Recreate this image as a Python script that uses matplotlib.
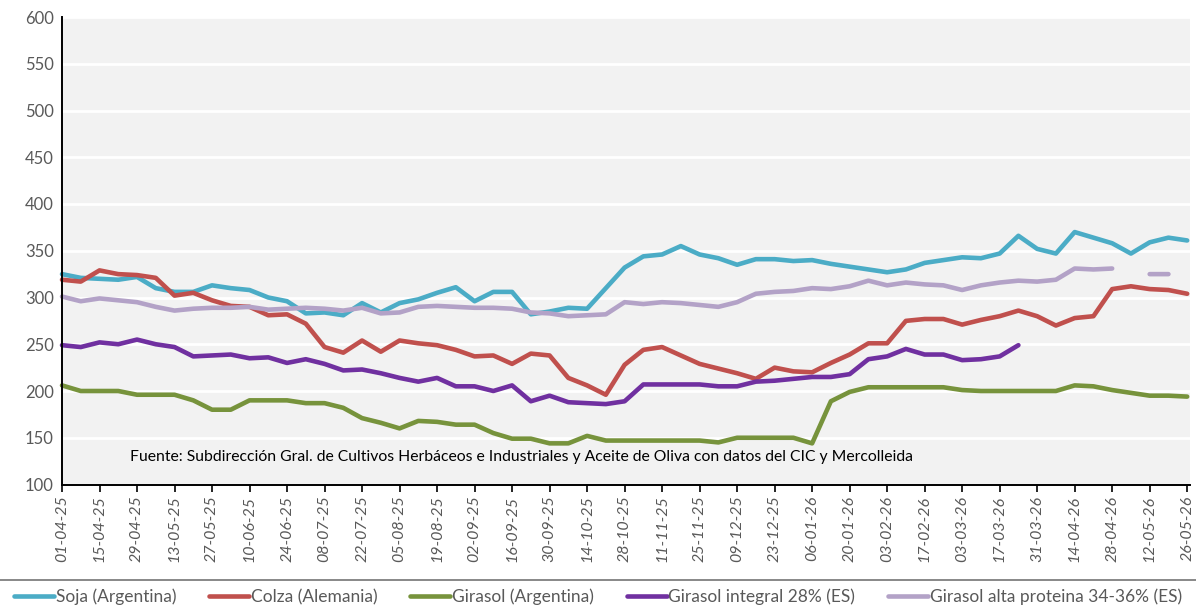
import numpy as np
import matplotlib.pyplot as plt
from matplotlib.lines import Line2D

plt.rcParams['font.family'] = ['Lato', 'DejaVu Sans']

nan = np.nan

# etiquetas del eje (una de cada dos semanas)
fechas = ["01-04-25", "15-04-25", "29-04-25", "13-05-25", "27-05-25", "10-06-25",
          "24-06-25", "08-07-25", "22-07-25", "05-08-25", "19-08-25", "02-09-25",
          "16-09-25", "30-09-25", "14-10-25", "28-10-25", "11-11-25", "25-11-25",
          "09-12-25", "23-12-25", "06-01-26", "20-01-26", "03-02-26", "17-02-26",
          "03-03-26", "17-03-26", "31-03-26", "14-04-26", "28-04-26", "12-05-26",
          "26-05-26"]

soja = [325, 321, 320, 319, 322, 310, 306, 306, 313, 310,
        308, 300, 296, 283, 284, 281, 294, 284, 294, 298,
        305, 311, 296, 306, 306, 282, 285, 289, 288, 310,
        332, 344, 346, 355, 346, 342, 335, 341, 341, 339,
        340, 336, 333, 330, 327, 330, 337, 340, 343, 342,
        347, 366, 352, 347, 370, 364, 358, 347, 359, 364, 361]

colza = [319, 317, 329, 325, 324, 321, 302, 305, 297, 291,
         290, 281, 282, 272, 247, 241, 254, 242, 254, 251,
         249, 244, 237, 238, 229, 240, 238, 214, 206, 196,
         228, 244, 247, 238, 229, 224, 219, 213, 225, 221,
         220, 230, 239, 251, 251, 275, 277, 277, 271, 276,
         280, 286, 280, 270, 278, 280, 309, 312, 309, 308, 304]

girasol = [206, 200, 200, 200, 196, 196, 196, 190, 180, 180,
           190, 190, 190, 187, 187, 182, 171, 166, 160, 168,
           167, 164, 164, 155, 149, 149, 144, 144, 152, 147,
           147, 147, 147, 147, 147, 145, 150, 150, 150, 150,
           144, 189, 199, 204, 204, 204, 204, 204, 201, 200,
           200, 200, 200, 200, 206, 205, 201, 198, 195, 195, 194]

integral = [249, 247, 252, 250, 255, 250, 247, 237, 238, 239,
            235, 236, 230, 234, 229, 222, 223, 219, 214, 210,
            214, 205, 205, 200, 206, 189, 195, 188, 187, 186,
            189, 207, 207, 207, 207, 205, 205, 210, 211, 213,
            215, 215, 218, 234, 237, 245, 239, 239, 233, 234,
            237, 249, nan, nan, nan, nan, nan, nan, nan, nan, nan]

alta_prot = [301, 296, 299, 297, 295, 290, 286, 288, 289, 289,
             290, 287, 288, 289, 288, 286, 289, 283, 284, 290,
             291, 290, 289, 289, 288, 284, 283, 280, 281, 282,
             295, 293, 295, 294, 292, 290, 295, 304, 306, 307,
             310, 309, 312, 318, 313, 316, 314, 313, 308, 313,
             316, 318, 317, 319, 331, 330, 331, nan, 325, 325, nan]

series = [
    ("Soja (Argentina)", soja, "#4bacc6"),
    ("Colza (Alemania)", colza, "#c0504d"),
    ("Girasol (Argentina)", girasol, "#77933c"),
    ("Girasol integral 28% (ES)", integral, "#7030a0"),
    ("Girasol alta proteina 34-36% (ES)", alta_prot, "#b3a2c7"),
]

W, H = 1196, 609
fig = plt.figure(figsize=(W / 100, H / 100), dpi=100)
ax = fig.add_axes([62 / W, 124.5 / H, (1190 - 62) / W, (484.5 - 17) / H])
ax.set_facecolor('#f2f2f2')

semanas = np.arange(len(soja))
for nombre, vals, col in series:
    ax.plot(semanas, vals, color=col, lw=3.3, label=nombre,
            solid_capstyle='round', solid_joinstyle='round', clip_on=False)

ax.set_xlim(0, 60.15)
ax.set_ylim(100, 600)
ax.set_yticks(range(100, 601, 50))
ax.set_xticks(semanas[::2])
ax.set_xticklabels(fechas, rotation=90, fontstyle='italic')
ax.grid(axis='y', color='white', lw=2)
ax.set_axisbelow(True)

for s in ['top', 'right']:
    ax.spines[s].set_visible(False)
for s in ['left', 'bottom']:
    ax.spines[s].set_color('black')
    ax.spines[s].set_linewidth(1.4)

ax.tick_params(axis='y', length=0, labelsize=12, labelcolor='#595959', pad=6)
ax.tick_params(axis='x', length=5, width=1.2, direction='out',
               labelsize=11.5, labelcolor='#595959', pad=3)

ax.text(0.06, 0.059,
        "Fuente: Subdirección Gral. de Cultivos Herbáceos e Industriales y Aceite de Oliva con datos del CIC y Mercolleida",
        transform=ax.transAxes, fontsize=11.3, va='center', ha='left', color='black')

fig.add_artist(Line2D([0, 1], [1 - 580 / H] * 2, color='#7f7f7f', lw=1.3,
                      transform=fig.transFigure))

fig.legend(loc='center', bbox_to_anchor=(0.5, 1 - 597 / H), ncol=5,
           frameon=False, fontsize=12.5, handlelength=2.3, handletextpad=0.1,
           columnspacing=1.9, labelcolor='#595959', borderpad=0.1)

fig.savefig('out.png', dpi=100, facecolor='white')
